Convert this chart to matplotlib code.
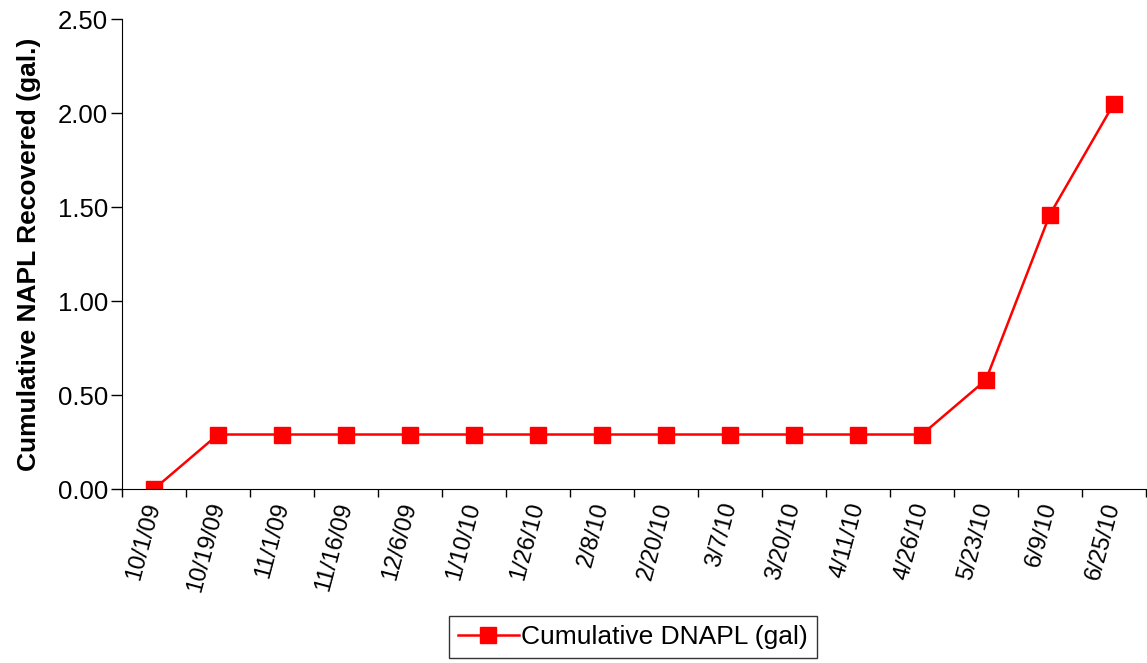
import matplotlib
matplotlib.use('Agg')
from matplotlib import pyplot as plt
from matplotlib.ticker import FormatStrFormatter

plt.rcParams['font.family'] = ['Liberation Sans', 'DejaVu Sans']

# sampling dates and cumulative recovered volume
dates = ['10/1/09', '10/19/09', '11/1/09', '11/16/09', '12/6/09', '1/10/10', '1/26/10',
         '2/8/10', '2/20/10', '3/7/10', '3/20/10', '4/11/10', '4/26/10', '5/23/10',
         '6/9/10', '6/25/10']
dnapl = [0.0, 0.29, 0.29, 0.29, 0.29, 0.29, 0.29, 0.29, 0.29, 0.29, 0.29, 0.29, 0.29,
         0.58, 1.46, 2.05]

fig = plt.figure(figsize=(11.47, 6.63), dpi=100)
ax = fig.add_axes([0.1064, 0.2624, 0.8926, 0.7089])

x = list(range(len(dates)))
ax.plot(x, dnapl, color='#ff0000', linewidth=1.8, marker='s', markersize=11,
        label='Cumulative DNAPL (gal)')

ax.set_xlim(-0.5, len(dates) - 0.5)
ax.set_ylim(0, 2.5)
ax.set_yticks([0, 0.5, 1.0, 1.5, 2.0, 2.5])
ax.yaxis.set_major_formatter(FormatStrFormatter('%.2f'))

# category ticks between points, labels at points
ax.set_xticks([i - 0.5 for i in range(len(dates) + 1)])
ax.set_xticklabels([])
ax.set_xticks(x, minor=True)
ax.set_xticklabels(dates, minor=True, rotation=75, ha='right', va='center',
                   rotation_mode='anchor', fontsize=17)
ax.tick_params(axis='x', which='minor', length=0, pad=10)
ax.tick_params(axis='x', which='major', length=6, direction='out', width=1)
ax.tick_params(axis='y', length=8, direction='out', labelsize=18.5, width=1, pad=2)

for s in ['top', 'right']:
    ax.spines[s].set_visible(False)
ax.spines['left'].set_color('black')
ax.spines['bottom'].set_color('black')

ax.set_ylabel('Cumulative NAPL Recovered (gal.)', fontsize=19, fontweight='bold', labelpad=12)

leg = fig.legend(loc='center', bbox_to_anchor=(0.552, 0.039), fontsize=19, frameon=True,
                 fancybox=False, edgecolor='black', handlelength=2.3, handletextpad=0.1,
                 borderpad=0.35, borderaxespad=0)
leg.get_frame().set_linewidth(1)

fig.savefig('out.png', dpi=100)
